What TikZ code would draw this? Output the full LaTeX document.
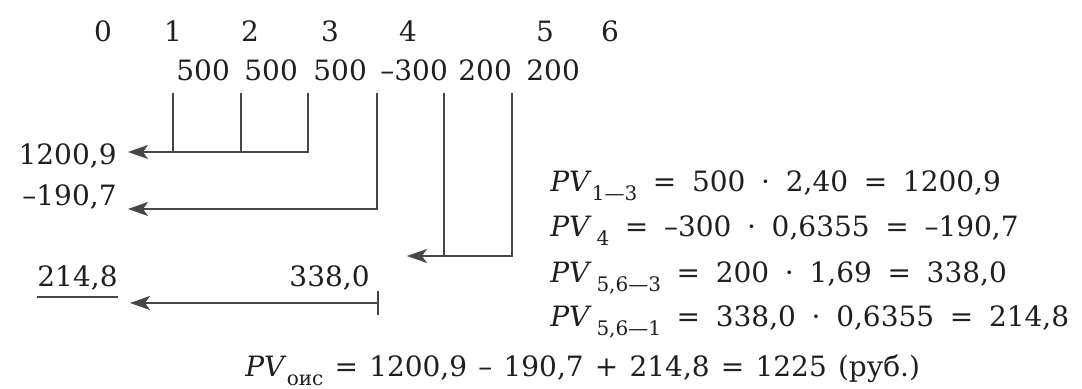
\documentclass[tikz,border=0pt]{standalone}
\usepackage{fontspec}
\setmainfont{DejaVu Serif}
\usetikzlibrary{arrows.meta}
\newcommand\sbs[1]{\raisebox{-0.32em}{\fontsize{10}{10}\selectfont #1}}
\newcommand\PVx{\textit{PV}}
\begin{document}
\begin{tikzpicture}[x=0.5pt,y=-0.5pt,
  txt/.style={inner sep=0pt, font=\fontsize{14}{16}\selectfont, text=black!88},
  eqn/.style={txt, anchor=base west, execute at begin node={\spaceskip=0.56em\relax}},
  ln/.style={line width=0.75pt, draw=black!72},
  arr/.style={ln, -{Stealth[length=10pt,width=7pt,inset=2.5pt]}}]
\useasboundingbox (0,0) rectangle (1082,389);
% period numbers
\node[txt, anchor=base] (n0) at (103,42) {0};
\node[txt, anchor=base] (n1) at (173,42) {1};
\node[txt, anchor=base] (n2) at (250,42) {2};
\node[txt, anchor=base] (n3) at (330,42) {3};
\node[txt, anchor=base] (n4) at (408,42) {4};
\node[txt, anchor=base] (n5) at (545,42) {5};
\node[txt, anchor=base] (n6) at (610,42) {6};
% cash flows
\node[txt, anchor=base west] (c1) at (176,81) {500};
\node[txt, anchor=base west] (c2) at (244,81) {500};
\node[txt, anchor=base west] (c3) at (313,81) {500};
\node[txt, anchor=base west] (c4) at (380,81) {–300};
\node[txt, anchor=base west] (c5) at (458,81) {200};
\node[txt, anchor=base west] (c6) at (526,81) {200};
% line points
\coordinate (a1) at (173,93); \coordinate (b1) at (173,152);
\coordinate (a2) at (241,93); \coordinate (b2) at (241,152);
\coordinate (a3) at (308,93); \coordinate (b3) at (308,152);
\coordinate (e1) at (128,152);
\coordinate (a4) at (377,93); \coordinate (b4) at (377,209);
\coordinate (e2) at (128,209);
\coordinate (a5) at (444,93); \coordinate (b5) at (444,256);
\coordinate (a6) at (512,93); \coordinate (b6) at (512,256);
\coordinate (e3) at (407,256);
\coordinate (s4) at (378,303); \coordinate (e4) at (130,303);
\coordinate (t4a) at (378,291); \coordinate (t4b) at (378,315);
% connectors
\draw[ln] (a1) -- (b1);
\draw[ln] (a2) -- (b2);
\draw[arr] (a3) -- (b3) -- (e1);
\draw[arr] (a4) -- (b4) -- (e2);
\draw[ln] (a5) -- (b5);
\draw[arr] (a6) -- (b6) -- (e3);
\draw[arr] (s4) -- (e4);
\draw[ln] (t4a) -- (t4b);
% left labels
\node[txt, anchor=base east] (l1) at (117,165) {1200,9};
\node[txt, anchor=base east] (l2) at (117,206) {–190,7};
\node[txt, anchor=base east] (l3) at (118,287) {214,8};
\node[txt, anchor=base east] (l4) at (370,287) {338,0};
\draw[ln] ([yshift=-5pt]l3.base west) -- ([yshift=-5pt]l3.base east);
% equations
\node[eqn] (q1) at (550,192) {\PVx\sbs{1—3} = 500 · 2,40 = 1200,9};
\node[eqn] (q2) at (550,237) {\PVx\,\sbs{4} = –300 · 0,6355 = –190,7};
\node[eqn] (q3) at (550,283) {\PVx\,\sbs{5,6—3} = 200 · 1,69 = 338,0};
\node[eqn] (q4) at (550,327) {\PVx\,\sbs{5,6—1} = 338,0 · 0,6355 = 214,8};
\node[txt, anchor=base west, execute at begin node={\spaceskip=0.4em\relax}] (q5) at (245,377) {\PVx\sbs{оис} = 1200,9 – 190,7 + 214,8 = 1225 (руб.)};
\end{tikzpicture}
\end{document}
